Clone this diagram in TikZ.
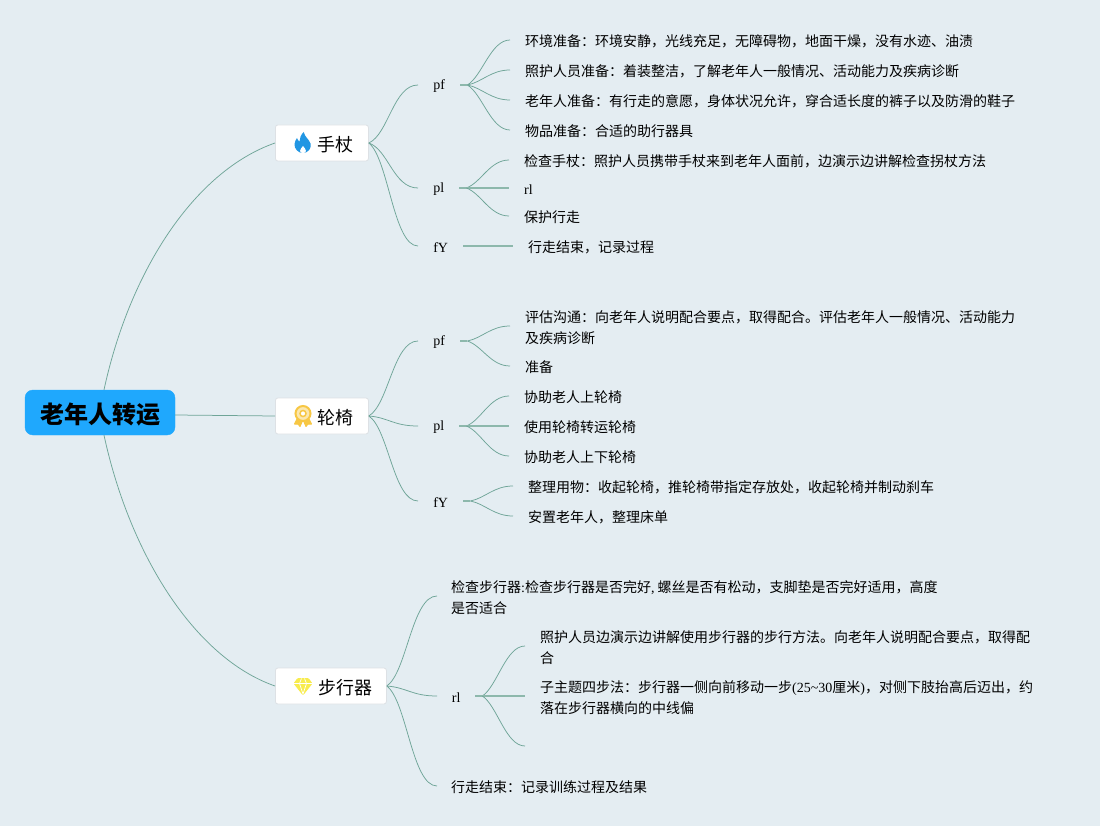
\documentclass[tikz,border=0pt]{standalone}
\usepackage{fontspec}
\setmainfont{Noto Sans CJK SC}
\newfontfamily\lat{Liberation Serif}
\usetikzlibrary{calc}
\definecolor{bgc}{HTML}{E4EDF2}
\definecolor{linec}{HTML}{6FA598}
\definecolor{stubc}{HTML}{8DB8AC}
\definecolor{rootc}{HTML}{1FA8FD}
\definecolor{boxline}{HTML}{DDE1E5}
\definecolor{flame}{HTML}{2196E3}
\definecolor{badge}{HTML}{F7C744}
\definecolor{badgelight}{HTML}{FBE7AE}
\definecolor{gem}{HTML}{F8EC4E}
\tikzset{
  x=1pt,y=-1pt,
  rootbox/.style={draw=rootc,fill=rootc,rounded corners=8pt,minimum width=150pt,minimum height=45pt,inner sep=0pt,
    font=\fontsize{24}{28}\selectfont\bfseries,text=black},
  mainbox/.style={draw=boxline,line width=0.8pt,fill=white,rounded corners=2.5pt,minimum height=36pt,inner xsep=0pt,inner ysep=0pt,anchor=west,
    font=\fontsize{18}{22}\selectfont,text=black},
  subnode/.style={anchor=west,inner sep=0pt,minimum height=18pt,align=center,yshift=-1.5pt,font=\lat\fontsize{14}{18}\selectfont,text=black},
  leaf/.style={anchor=west,inner xsep=15pt,inner ysep=0pt,align=left,yshift=-1.5pt,font=\fontsize{14}{21}\selectfont,text=black},
  link/.style={draw=linec,line width=0.75pt},
  stub/.style={draw=stubc,line width=1.5pt},
}
\newcommand{\conn}[3]{%
  \draw[stub] ($(#1)+(0,-1.5)$) -- ++(#3,0);
  \path[link] let \p1=($(#1)+(#3,-1.5)$),\p2=($(#2)+(0,-1.5)$),\n1={\x2-\x1},\n2={\y2-\y1} in
    (\p1) .. controls (\x1+0.35*\n1,\y1+0.2*\n2) and (\x1+0.55*\n1,\y2) .. (\p2);}
\newcommand{\straightconn}[2]{%
  \draw[stub] ($(#1)+(0,-1.5)$) -- ($(#2)+(0,-1.5)$);}
\newcommand{\mainconn}[2]{%
  \path[link] let \p1=(#1),\p2=($(#2)+(0,-1.5)$),\n1={\x2-\x1},\n2={\y2-\y1} in
    (\p1) .. controls (\x1+0.4*\n1,\y1+0.15*\n2) and (\x1+0.5*\n1,\y2) .. (\p2);}
\begin{document}
\begin{tikzpicture}
\useasboundingbox (0,0) rectangle (1100,826);
\fill[bgc] (0,0) rectangle (1100,826);

% root and main topics
\node[rootbox] (root) at (100,412.5) {\raisebox{-2.5pt}[\height][\depth]{老年人转运}};
\node[mainbox,minimum width=93pt] (a) at (275,143) {\raisebox{-1.5pt}[\height][\depth]{\hspace*{28pt}手杖}};
\node[mainbox,minimum width=93pt] (b) at (275,416) {\raisebox{-1.5pt}[\height][\depth]{\hspace*{28pt}轮椅}};
\node[mainbox,minimum width=111pt] (c) at (275,686) {\raisebox{-1.5pt}[\height][\depth]{\hspace*{29pt}步行器}};

% topic 1
\node[subnode,minimum width=42pt] (apf) at (418,85) {pf};
\node[subnode,minimum width=41pt] (apl) at (418,188) {pl};
\node[subnode,minimum width=45pt] (afy) at (418,246) {fY};
\node[leaf] (a1) at (510,40) {环境准备：环境安静，光线充足，无障碍物，地面干燥，没有水迹、油渍};
\node[leaf] (a2) at (510,70) {照护人员准备：着装整洁，了解老年人一般情况、活动能力及疾病诊断};
\node[leaf] (a3) at (510,100) {老年人准备：有行走的意愿，身体状况允许，穿合适长度的裤子以及防滑的鞋子};
\node[leaf] (a4) at (510,130) {物品准备：合适的助行器具};
\node[leaf] (a5) at (509,160) {检查手杖：照护人员携带手杖来到老年人面前，边演示边讲解检查拐杖方法};
\node[leaf] (a6) at (509,188) {\lat rl};
\node[leaf] (a7) at (509,216) {保护行走};
\node[leaf] (a8) at (513,246) {行走结束，记录过程};

% topic 2
\node[subnode,minimum width=42pt] (bpf) at (418,341) {pf};
\node[subnode,minimum width=41pt] (bpl) at (418,426) {pl};
\node[subnode,minimum width=45pt] (bfy) at (418,501) {fY};
\node[leaf] (b1) at (510,326) {评估沟通：向老年人说明配合要点，取得配合。评估老年人一般情况、活动能力\\及疾病诊断};
\node[leaf] (b2) at (510,366) {准备};
\node[leaf] (b3) at (509,396) {协助老人上轮椅};
\node[leaf] (b4) at (509,426) {使用轮椅转运轮椅};
\node[leaf] (b5) at (509,456) {协助老人上下轮椅};
\node[leaf] (b6) at (513,486) {整理用物：收起轮椅，推轮椅带指定存放处，收起轮椅并制动刹车};
\node[leaf] (b7) at (513,516) {安置老年人，整理床单};

% topic 3
\node[leaf,inner xsep=14pt] (c1) at (437,596) {检查步行器{\lat :}检查步行器是否完好{\lat ,} 螺丝是否有松动，支脚垫是否完好适用，高度\\是否适合};
\node[subnode,minimum width=38pt] (crl) at (437,696) {rl};
\node[leaf,inner xsep=14pt] (c3) at (437,786) {行走结束：记录训练过程及结果};
\node[leaf] (c4) at (525,646) {照护人员边演示边讲解使用步行器的步行方法。向老年人说明配合要点，取得配\\合};
\node[leaf] (c5) at (525,696) {子主题四步法：步行器一侧向前移动一步{\lat (25\textasciitilde 30}厘米{\lat )}，对侧下肢抬高后迈出，约\\落在步行器横向的中线偏};
\coordinate (c6) at (525,747.5);

% connectors
\path[link] ($(root.east)+(0,2.5)$) -- (b.west);
\path[link] let \p1=($(root.north)+(4,0)$),\p2=(a.west) in (\p1) .. controls (\x1+26pt,\y1+120pt) and (\x2-80pt,\y2-28pt) .. (\p2);
\path[link] let \p1=($(root.south)+(4,0)$),\p2=(c.west) in (\p1) .. controls (\x1+26pt,\y1-120pt) and (\x2-80pt,\y2+28pt) .. (\p2);

\mainconn{a.east}{apf.west}
\mainconn{a.east}{apl.west}
\mainconn{a.east}{afy.west}
\mainconn{b.east}{bpf.west}
\mainconn{b.east}{bpl.west}
\mainconn{b.east}{bfy.west}
\mainconn{c.east}{c1.west}
\mainconn{c.east}{crl.west}
\mainconn{c.east}{c3.west}

\conn{apf.east}{a1.west}{7}
\conn{apf.east}{a2.west}{7}
\conn{apf.east}{a3.west}{7}
\conn{apf.east}{a4.west}{7}
\conn{apl.east}{a5.west}{7}
\straightconn{apl.east}{a6.west}
\conn{apl.east}{a7.west}{7}
\straightconn{afy.east}{a8.west}

\conn{bpf.east}{b1.west}{7}
\conn{bpf.east}{b2.west}{7}
\conn{bpl.east}{b3.west}{7}
\straightconn{bpl.east}{b4.west}
\conn{bpl.east}{b5.west}{7}
\conn{bfy.east}{b6.west}{7}
\conn{bfy.east}{b7.west}{7}

\conn{crl.east}{c4.west}{7}
\straightconn{crl.east}{c5.west}
\conn{crl.east}{c6}{7}

% icons
\begin{scope}[shift={($(a.west)+(28,0)$)}]
  \fill[flame] (0.8,-11) .. controls (1.5,-6) and (6,-4) .. (7.5,0.5)
    .. controls (9,5) and (5,10) .. (0,10) .. controls (-5,10) and (-9,5.5) .. (-8.5,1)
    .. controls (-8.2,-1.5) and (-7,-3.5) .. (-6,-5) .. controls (-5.5,-3) and (-4.5,-2) .. (-3.5,-1.5)
    .. controls (-3.5,-5) and (-2,-8.5) .. (0.8,-11) -- cycle;
  \fill[white] (0,3) .. controls (1,5) and (3.2,6) .. (3,8) .. controls (2.8,9.5) and (1,10) .. (0,10)
    .. controls (-1,10) and (-2.8,9.5) .. (-3,8) .. controls (-3.2,6) and (-1,5) .. (0,3) -- cycle;
\end{scope}
\begin{scope}[shift={($(b.west)+(28,0)$)}]
  \filldraw[draw=badge,fill=badge,line width=1pt,line join=round] (-6,3) -- (-8.5,8) -- (-5,8) -- (-3,10.5) -- (-1,6) -- cycle;
  \filldraw[draw=badge,fill=badge,line width=1pt,line join=round] (6,3) -- (8.5,8) -- (5,8) -- (3,10.5) -- (1,6) -- cycle;
  \draw[badge,line width=2pt,fill=badgelight] (0,-2.5) circle (7.5pt);
  \draw[badge,line width=1.5pt,fill=white] (0,-2.5) circle (3pt);
\end{scope}
\begin{scope}[shift={($(c.west)+(28,0)$)}]
  \fill[gem,rounded corners=1pt] (-5.5,-8) -- (5.5,-8) -- (9.5,-2.5) -- (0,9.5) -- (-9.5,-2.5) -- cycle;
  \draw[white,line width=0.7pt] (-9,-2.5) -- (9,-2.5) (-3.5,-2.5) -- (0,8) -- (3.5,-2.5) (-3.5,-2.5) -- (-1.5,-7.5) (3.5,-2.5) -- (1.5,-7.5);
\end{scope}
\end{tikzpicture}
\end{document}
